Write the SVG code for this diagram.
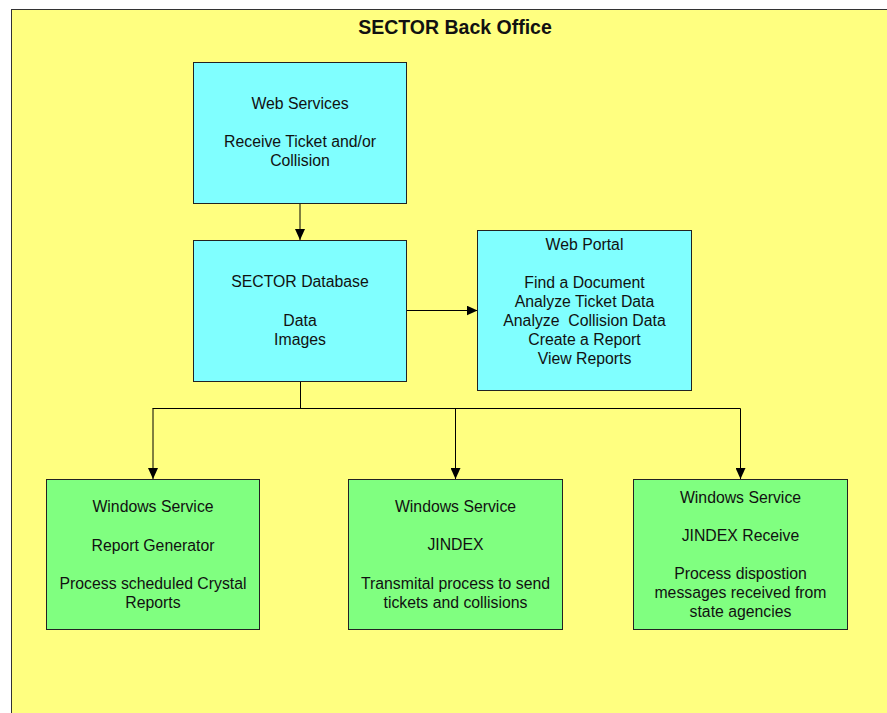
<svg xmlns="http://www.w3.org/2000/svg" width="887" height="713" viewBox="0 0 887 713">
  <style>
    .frame { fill: #FFFF80; stroke: #333333; stroke-width: 1; }
    .cyan { fill: #80FFFF; stroke: #222222; stroke-width: 1; }
    .green { fill: #80FF80; stroke: #222222; stroke-width: 1; }
    text { font-family: "Liberation Sans", Arial, sans-serif; font-size: 15.8px; fill: #111111; text-anchor: middle; }
    .title { font-size: 19.5px; font-weight: bold; }
    .conn { fill: none; stroke: #000000; stroke-width: 1; }
  </style>
  <defs>
    <marker id="arrow" viewBox="0 0 11 10" refX="11" refY="5" markerWidth="11" markerHeight="10" markerUnits="userSpaceOnUse" orient="auto">
      <path d="M0,0 L11,5 L0,10 Z" fill="#000000"/>
    </marker>
  </defs>

  <rect x="0" y="0" width="887" height="713" fill="#FFFFFF"/>

  <!-- outer container -->
  <g id="back-office">
    <rect class="frame" x="11.5" y="9.5" width="900" height="720"/>
    <text class="title" x="455" y="34">SECTOR Back Office</text>
  </g>

  <!-- connectors -->
  <g id="connectors">
    <path class="conn" d="M300,204 L300,240" marker-end="url(#arrow)"/>
    <path class="conn" d="M407,310.5 L477.5,310.5" marker-end="url(#arrow)"/>
    <path class="conn" d="M300.5,382 L300.5,408.5 M152.5,408.5 L740.5,408.5"/>
    <path class="conn" d="M153,408.5 L153,479" marker-end="url(#arrow)"/>
    <path class="conn" d="M455.5,408.5 L455.5,479" marker-end="url(#arrow)"/>
    <path class="conn" d="M740.5,408.5 L740.5,479" marker-end="url(#arrow)"/>
  </g>

  <g id="web-services">
    <rect class="cyan" x="193.5" y="62.5" width="213" height="141"/>
    <text x="300" y="109">Web Services</text>
    <text x="300" y="147">Receive Ticket and/or</text>
    <text x="300" y="166">Collision</text>
  </g>

  <g id="sector-database">
    <rect class="cyan" x="193.5" y="240.5" width="213" height="141"/>
    <text x="300" y="287">SECTOR Database</text>
    <text x="300" y="325.5">Data</text>
    <text x="300" y="344.5">Images</text>
  </g>

  <g id="web-portal">
    <rect class="cyan" x="477.5" y="230.5" width="214" height="160"/>
    <text x="584.5" y="249.5">Web Portal</text>
    <text x="584.5" y="287.5">Find a Document</text>
    <text x="584.5" y="306.5">Analyze Ticket Data</text>
    <text x="584.5" y="325.5" xml:space="preserve">Analyze  Collision Data</text>
    <text x="584.5" y="344.5">Create a Report</text>
    <text x="584.5" y="363.5">View Reports</text>
  </g>

  <g id="report-generator">
    <rect class="green" x="46.5" y="479.5" width="213" height="150"/>
    <text x="153" y="512">Windows Service</text>
    <text x="153" y="550.5">Report Generator</text>
    <text x="153" y="588.5">Process scheduled Crystal</text>
    <text x="153" y="607.5">Reports</text>
  </g>

  <g id="jindex">
    <rect class="green" x="348.5" y="479.5" width="214" height="150"/>
    <text x="455.5" y="512">Windows Service</text>
    <text x="455.5" y="550">JINDEX</text>
    <text x="455.5" y="588.5">Transmital process to send</text>
    <text x="455.5" y="607.5">tickets and collisions</text>
  </g>

  <g id="jindex-receive">
    <rect class="green" x="633.5" y="479.5" width="214" height="150"/>
    <text x="740.5" y="503">Windows Service</text>
    <text x="740.5" y="540.5">JINDEX Receive</text>
    <text x="740.5" y="578.5">Process dispostion</text>
    <text x="740.5" y="597.5">messages received from</text>
    <text x="740.5" y="616.5">state agencies</text>
  </g>
</svg>
